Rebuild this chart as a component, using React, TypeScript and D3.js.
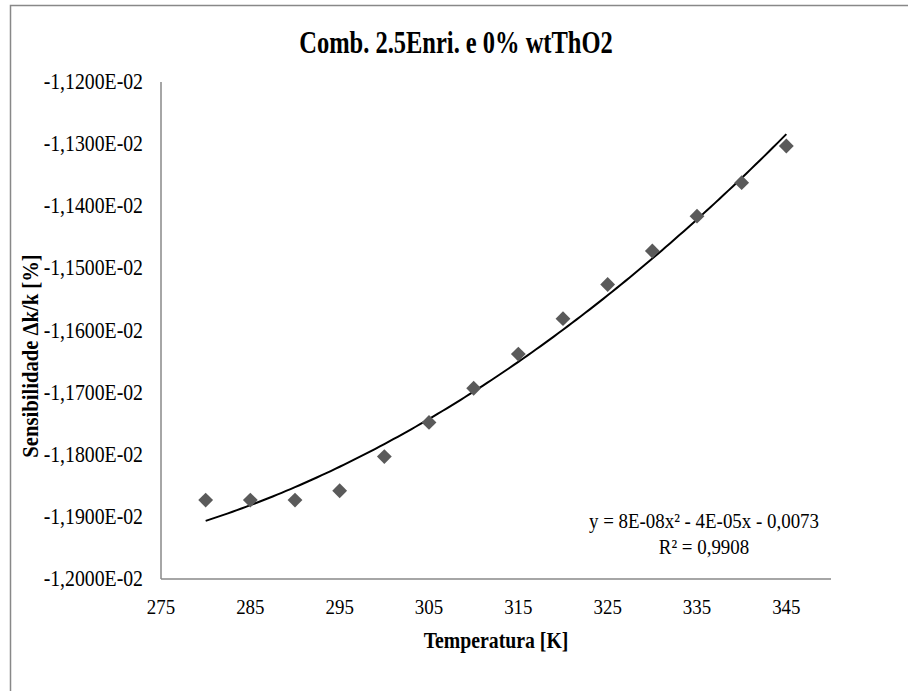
import React from "react";
import * as d3 from "d3";

const temperatures = [280, 285, 290, 295, 300, 305, 310, 315, 320, 325, 330, 335, 340, 345];
const sensitivity = [
  -0.011873, -0.011873, -0.011873, -0.011858, -0.011803, -0.011748, -0.011693,
  -0.011638, -0.011581, -0.011526, -0.011472, -0.011416, -0.011362, -0.011303,
];
const xTicks = [275, 285, 295, 305, 315, 325, 335, 345];
const yTicks = [-0.012, -0.0119, -0.0118, -0.0117, -0.0116, -0.0115, -0.0114, -0.0113, -0.0112];
const yTickLabels = [
  "-1,2000E-02", "-1,1900E-02", "-1,1800E-02", "-1,1700E-02", "-1,1600E-02",
  "-1,1500E-02", "-1,1400E-02", "-1,1300E-02", "-1,1200E-02",
];
const title = "Comb. 2.5Enri. e 0% wtThO2";
const xTitle = "Temperatura [K]";
const yTitle = "Sensibilidade  \u0394k/k [%]";
const eqLine1 = "y = 8E-08x\u00B2  - 4E-05x - 0,0073";
const eqLine2 = "R\u00B2 = 0,9908";

// quadratic least squares fit
function quadFit(xs: number[], ys: number[]) {
  const xm = d3.mean(xs)!;
  const n = xs.length;
  const S = [[0, 0, 0], [0, 0, 0], [0, 0, 0]];
  const b = [0, 0, 0];
  for (let i = 0; i < n; i++) {
    const u = xs[i] - xm;
    const p = [1, u, u * u];
    for (let r = 0; r < 3; r++) {
      for (let c = 0; c < 3; c++) S[r][c] += p[r] * p[c];
      b[r] += p[r] * ys[i];
    }
  }
  const A = S.map((row, i) => [...row, b[i]]);
  for (let i = 0; i < 3; i++) {
    let mx = i;
    for (let k = i + 1; k < 3; k++) if (Math.abs(A[k][i]) > Math.abs(A[mx][i])) mx = k;
    [A[i], A[mx]] = [A[mx], A[i]];
    for (let k = i + 1; k < 3; k++) {
      const f = A[k][i] / A[i][i];
      for (let c = i; c < 4; c++) A[k][c] -= f * A[i][c];
    }
  }
  const coef = [0, 0, 0];
  for (let i = 2; i >= 0; i--) {
    let s = A[i][3];
    for (let c = i + 1; c < 3; c++) s -= A[i][c] * coef[c];
    coef[i] = s / A[i][i];
  }
  return (x: number) => {
    const u = x - xm;
    return coef[0] + coef[1] * u + coef[2] * u * u;
  };
}

const FONT = "'Liberation Serif', 'Times New Roman', serif";
const SX = 0.86;

function T(props: {
  x: number; y: number; text: string; size: number; anchor?: string;
  bold?: boolean; rotate?: number; sx?: number;
}) {
  const { x, y, text, size, anchor = "middle", bold = false, rotate = 0, sx = SX } = props;
  return (
    <text
      transform={`translate(${x},${y}) rotate(${rotate}) scale(${sx},1)`}
      textAnchor={anchor}
      fontFamily={FONT}
      fontSize={size}
      fontWeight={bold ? "bold" : "normal"}
      fill="#000"
    >
      {text}
    </text>
  );
}

export default function App() {
  const W = 908, H = 691;
  const left = 161, right = 831, top = 82, bottom = 579;
  const x = d3.scaleLinear().domain([275, 350]).range([left, right]);
  const y = d3.scaleLinear().domain([-0.012, -0.0112]).range([bottom, top]);
  const fit = quadFit(temperatures, sensitivity);
  const fitXs = d3.range(280, 345.01, 0.5);
  const line = d3.line<number>().x((t) => x(t)).y((t) => y(fit(t)));
  const diamond = d3.symbol().type(d3.symbolSquare).size(110)()!;

  return (
    <svg
      width={W}
      height={H}
      style={{ position: "absolute", left: 0, top: 0, background: "#fff" }}
    >
      <rect x={0} y={0} width={W} height={H} fill="#fff" />
      <path d={`M10.5,${H + 5} V5.5 H${W + 5}`} fill="none" stroke="#888" strokeWidth={1.5} />
      <T x={456} y={53} text={title} size={31} bold sx={0.79} />
      <line x1={left} x2={left} y1={top} y2={bottom} stroke="#888" strokeWidth={1.5} />
      <line x1={left} x2={right} y1={bottom} y2={bottom} stroke="#888" strokeWidth={1.5} />
      {yTicks.map((v, i) => (
        <T key={"y" + i} x={143} y={y(v) + 7} text={yTickLabels[i]} size={23} anchor="end" />
      ))}
      {xTicks.map((v) => (
        <T key={"x" + v} x={x(v)} y={614} text={String(v)} size={22} />
      ))}
      <T x={(left + right) / 2} y={648} text={xTitle} size={23} bold />
      <T x={38} y={356} text={yTitle} size={24} bold rotate={-90} />
      <path d={line(fitXs)!} fill="none" stroke="#000" strokeWidth={2} />
      {temperatures.map((t, i) => (
        <path
          key={"p" + t}
          d={diamond}
          transform={`translate(${x(t)},${y(sensitivity[i])}) rotate(45)`}
          fill="#5a5a5a"
        />
      ))}
      <T x={704} y={528} text={eqLine1} size={22} />
      <T x={704} y={554} text={eqLine2} size={22} />
    </svg>
  );
}
